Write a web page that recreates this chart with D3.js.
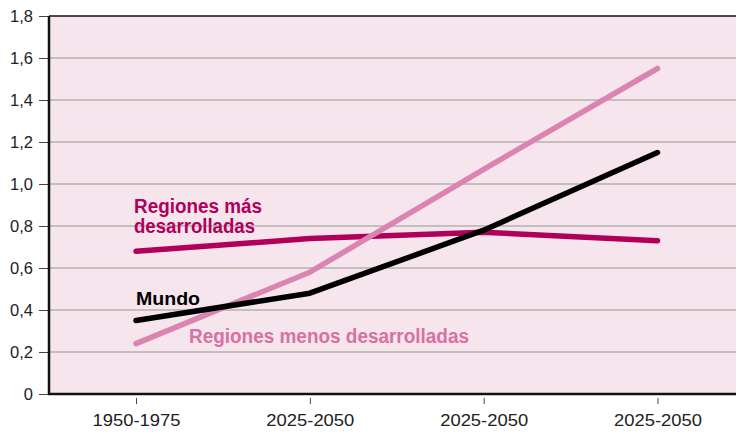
<!DOCTYPE html>
<html>
<head>
<meta charset="utf-8">
<script src="https://cdn.jsdelivr.net/npm/d3@7"></script>
<style>
  body { margin: 0; background: #fff; }
  svg { display: block; }
</style>
</head>
<body>
<div id="chart"></div>
<script>
// data
let periods = ["1950-1975", "2025-2050 ", "2025-2050  ", "2025-2050   "];
let periodLabels = ["1950-1975", "2025-2050", "2025-2050", "2025-2050"];
let masDesarrolladas = [0.68, 0.74, 0.77, 0.73];
let mundo = [0.35, 0.48, 0.78, 1.15];
let menosDesarrolladas = [0.24, 0.58, 1.07, 1.55];
let yTicks = [0, 0.2, 0.4, 0.6, 0.8, 1.0, 1.2, 1.4, 1.6, 1.8];

let width = 736, height = 433;
let margin = { top: 16, right: 0, bottom: 39, left: 49 };

let svg = d3.select("#chart").append("svg")
	.attr("width", width)
	.attr("height", height);

let x = d3.scalePoint()
	.domain(periods)
	.range([136, 657.5]);

let y = d3.scaleLinear()
	.domain([0, 1.8])
	.range([height - margin.bottom, margin.top]);

// plot background
svg.append("rect")
	.attr("x", margin.left)
	.attr("y", margin.top)
	.attr("width", width - margin.left + 5)
	.attr("height", y(0) - margin.top)
	.attr("fill", "#f7e5ee");

// grid lines
svg.append("g")
	.selectAll("line")
	.data(yTicks.filter(d => d > 0 && d < 1.8))
	.enter()
	.append("line")
	.attr("x1", margin.left)
	.attr("x2", width)
	.attr("y1", d => y(d))
	.attr("y2", d => y(d))
	.attr("stroke", "#b4b0b2")
	.attr("stroke-width", 1.3);

// y axis
let yAxis = svg.append("g")
	.attr("transform", `translate(${margin.left},0)`)
	.call(d3.axisLeft(y).tickValues(yTicks).tickSize(10).tickPadding(6)
		.tickFormat(d => d === 0 ? "0" : d3.format(".1f")(d).replace(".", ",")));
yAxis.select(".domain").remove();
yAxis.selectAll(".tick line").attr("stroke", "#444").attr("stroke-width", 1);
yAxis.selectAll(".tick text")
	.attr("fill", "#222")
	.style("font-family", "Liberation Sans, Arial, sans-serif")
	.style("font-size", "16.5px")
	.style("font-weight", "300");

// x axis
let xAxis = svg.append("g")
	.attr("transform", `translate(0,${y(0)})`)
	.call(d3.axisBottom(x).tickSize(10).tickPadding(10)
		.tickFormat((d, i) => periodLabels[i]));
xAxis.select(".domain").remove();
xAxis.selectAll(".tick line").attr("stroke", "#444").attr("stroke-width", 1).attr("y1", 4);
xAxis.selectAll(".tick text")
	.attr("fill", "#222")
	.attr("textLength", 88)
	.attr("lengthAdjust", "spacingAndGlyphs")
	.style("font-family", "Liberation Sans, Arial, sans-serif")
	.style("font-size", "16.5px");

// frame: top, left, bottom
svg.append("line")
	.attr("x1", margin.left).attr("x2", width)
	.attr("y1", margin.top).attr("y2", margin.top)
	.attr("stroke", "#111").attr("stroke-width", 1.6);
svg.append("line")
	.attr("x1", margin.left).attr("x2", margin.left)
	.attr("y1", margin.top).attr("y2", y(0))
	.attr("stroke", "#111").attr("stroke-width", 2.5);
svg.append("line")
	.attr("x1", margin.left - 1).attr("x2", width)
	.attr("y1", y(0)).attr("y2", y(0))
	.attr("stroke", "#111").attr("stroke-width", 2.5);

let line = d3.line()
	.x((d, i) => x(periods[i]))
	.y(d => y(d));

let series = [
	{ name: "mas", values: masDesarrolladas, color: "#b0005a" },
	{ name: "menos", values: menosDesarrolladas, color: "#dc84b1" },
	{ name: "mundo", values: mundo, color: "#000000" }
];

svg.selectAll(".series")
	.data(series)
	.enter()
	.append("path")
	.attr("class", "series")
	.attr("d", d => line(d.values))
	.attr("fill", "none")
	.attr("stroke", d => d.color)
	.attr("stroke-width", 5.5)
	.attr("stroke-linecap", "round")
	.attr("stroke-linejoin", "round");

// labels
let labels = [
	{ text: "Regiones más", x: 134, y: 213, len: 128, size: 20, color: "#b0005a" },
	{ text: "desarrolladas", x: 134, y: 233, len: 121, size: 20, color: "#b0005a" },
	{ text: "Mundo", x: 136, y: 305, len: 64, size: 19, color: "#000" },
	{ text: "Regiones menos desarrolladas", x: 189, y: 343, len: 280, size: 20, color: "#d870a4" }
];

svg.selectAll(".label")
	.data(labels)
	.enter()
	.append("text")
	.attr("class", "label")
	.attr("x", d => d.x)
	.attr("y", d => d.y)
	.attr("textLength", d => d.len)
	.attr("lengthAdjust", "spacingAndGlyphs")
	.attr("fill", d => d.color)
	.style("font-family", "Liberation Sans, Arial, sans-serif")
	.style("font-weight", "bold")
	.style("font-size", d => d.size + "px")
	.text(d => d.text);
</script>
</body>
</html>
